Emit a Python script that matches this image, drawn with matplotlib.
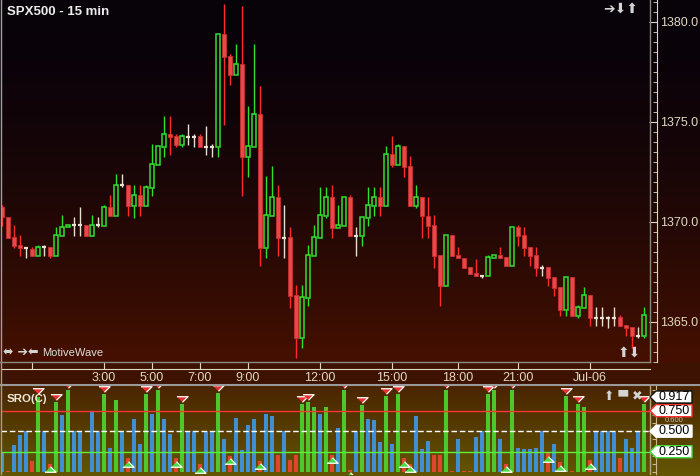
import numpy as np
import matplotlib
matplotlib.use("Agg")
import matplotlib.pyplot as plt
from matplotlib.lines import Line2D
from matplotlib.patches import Polygon
from matplotlib.ticker import FixedLocator, MultipleLocator, FormatStrFormatter
from matplotlib.transforms import blended_transform_factory

plt.rcParams['font.family'] = ['Liberation Sans', 'DejaVu Sans']

# 15 min bars, SPX500
opens = [1370.72, 1370.24, 1369.24, 1368.84, 1368.70, 1368.64, 1368.30, 1368.74, 1368.74, 1368.30,
         1369.30, 1369.74, 1369.84, 1369.84, 1369.84, 1369.30, 1369.84, 1369.80, 1370.74, 1370.30,
         1371.84, 1371.84, 1370.80, 1371.34, 1370.80, 1371.70, 1372.85, 1373.75, 1374.38, 1374.28,
         1373.85, 1374.25, 1374.25, 1374.28, 1373.75, 1373.75, 1373.75, 1379.38, 1378.28, 1377.35,
         1377.88, 1373.25, 1373.75, 1375.38, 1368.70, 1370.30, 1371.23, 1369.20, 1369.23, 1366.33,
         1364.20, 1366.20, 1368.30, 1369.20, 1370.30, 1371.23, 1369.70, 1369.80, 1371.23, 1369.30,
         1369.30, 1370.20, 1370.80, 1371.23, 1370.80, 1373.38, 1372.85, 1373.78, 1372.78, 1370.80,
         1371.23, 1370.30, 1369.83, 1368.33, 1366.80, 1369.33, 1368.33, 1368.20, 1367.73, 1367.43,
         1367.30, 1367.30, 1368.20, 1368.33, 1368.23, 1367.80, 1369.73, 1369.33, 1368.73, 1368.33,
         1367.70, 1367.73, 1367.23, 1366.73, 1365.60, 1367.23, 1365.30, 1365.70, 1366.33, 1365.20,
         1365.20, 1365.20, 1365.20, 1365.23, 1364.83, 1364.73, 1364.30, 1364.30]
highs = [1370.84, 1370.24, 1369.84, 1369.34, 1368.70, 1368.74, 1368.84, 1368.84, 1368.74, 1369.74,
         1370.34, 1369.84, 1370.24, 1370.74, 1369.84, 1370.34, 1370.24, 1370.84, 1371.34, 1372.40,
         1372.40, 1371.84, 1371.84, 1371.84, 1371.84, 1373.88, 1373.80, 1375.28, 1375.28, 1374.38,
         1374.38, 1374.88, 1374.38, 1374.38, 1374.78, 1373.88, 1379.38, 1380.88, 1378.38, 1378.88,
         1380.78, 1375.78, 1378.88, 1376.78, 1372.28, 1372.78, 1371.83, 1370.83, 1369.73, 1366.83,
         1366.83, 1368.83, 1369.83, 1371.73, 1371.73, 1371.83, 1370.83, 1371.23, 1371.33, 1369.73,
         1370.23, 1371.73, 1371.73, 1371.73, 1373.78, 1374.28, 1373.88, 1373.78, 1373.28, 1371.83,
         1371.23, 1371.23, 1370.33, 1368.33, 1369.33, 1369.33, 1368.73, 1368.20, 1367.73, 1368.13,
         1367.30, 1368.33, 1368.33, 1368.73, 1368.23, 1369.73, 1369.83, 1369.73, 1368.73, 1368.73,
         1367.83, 1367.73, 1367.23, 1366.73, 1367.23, 1367.23, 1365.83, 1366.73, 1366.33, 1365.73,
         1365.73, 1365.30, 1365.73, 1365.33, 1364.83, 1364.73, 1364.73, 1365.73]
lows = [1369.80, 1369.20, 1368.70, 1368.29, 1368.20, 1368.30, 1368.30, 1368.30, 1368.20, 1368.30,
        1369.30, 1369.74, 1369.30, 1369.30, 1369.30, 1369.30, 1369.74, 1369.80, 1370.30, 1370.30,
        1371.74, 1370.30, 1370.20, 1370.30, 1370.80, 1371.30, 1372.85, 1373.25, 1373.35, 1373.75,
        1373.75, 1373.85, 1373.75, 1373.75, 1373.35, 1373.25, 1373.25, 1374.85, 1376.85, 1377.35,
        1371.30, 1372.25, 1373.75, 1367.80, 1368.20, 1370.30, 1368.30, 1368.20, 1365.70, 1363.20,
        1363.70, 1365.80, 1368.30, 1369.20, 1370.20, 1369.20, 1369.70, 1369.80, 1369.30, 1368.30,
        1368.80, 1369.80, 1370.30, 1370.30, 1370.80, 1372.75, 1372.85, 1372.25, 1370.80, 1370.70,
        1369.20, 1369.20, 1367.70, 1365.80, 1366.80, 1368.30, 1368.20, 1367.70, 1367.40, 1367.30,
        1367.20, 1367.30, 1368.20, 1368.20, 1367.80, 1367.80, 1368.80, 1368.30, 1367.80, 1367.30,
        1367.30, 1366.80, 1366.30, 1365.30, 1365.30, 1365.30, 1365.20, 1365.70, 1364.80, 1364.80,
        1364.80, 1364.70, 1364.80, 1364.80, 1364.30, 1363.70, 1364.20, 1364.20]
closes = [1370.22, 1369.20, 1368.80, 1368.70, 1368.70, 1368.30, 1368.74, 1368.74, 1368.30, 1369.34,
          1369.74, 1369.84, 1369.84, 1369.84, 1369.30, 1369.84, 1369.84, 1370.74, 1370.30, 1371.84,
          1371.84, 1370.80, 1371.34, 1370.80, 1371.74, 1372.88, 1373.78, 1374.38, 1374.25, 1373.85,
          1374.28, 1374.25, 1374.25, 1373.75, 1373.75, 1373.75, 1379.38, 1378.25, 1377.35, 1377.88,
          1373.25, 1373.78, 1375.38, 1368.70, 1370.33, 1371.23, 1369.20, 1369.20, 1366.30, 1364.20,
          1366.23, 1368.33, 1369.23, 1370.33, 1371.23, 1369.70, 1369.83, 1371.23, 1369.30, 1369.30,
          1370.23, 1370.83, 1371.23, 1370.80, 1373.38, 1372.85, 1373.78, 1372.75, 1370.80, 1371.23,
          1370.30, 1369.80, 1368.30, 1366.80, 1369.33, 1368.30, 1368.20, 1367.70, 1367.40, 1367.30,
          1367.30, 1368.23, 1368.33, 1368.20, 1367.80, 1369.73, 1369.30, 1368.70, 1368.30, 1367.70,
          1367.70, 1367.20, 1366.70, 1365.60, 1367.23, 1365.30, 1365.73, 1366.33, 1365.20, 1365.20,
          1365.20, 1365.20, 1365.20, 1364.80, 1364.70, 1364.30, 1364.30, 1365.33]

# SRO(C) oscillator
sro = [0.25, 0.015, 0.33, 0.45, 0.5, 0.14, 0.92, 0.5, 0.10, 0.85,
       0.70, 1.0, 0.5, 0.5, 0.005, 0.745, 0.5, 0.95, 0.30, 0.875,
       0.5, 0.17, 0.65, 0.34, 0.95, 0.71, 1.0, 0.65, 0.47, 0.17,
       0.83, 0.5, 0.5, 0.095, 0.5, 0.5, 0.965, 0.41, 0.20, 0.665,
       0.265, 0.57, 0.65, 0.135, 0.705, 0.69, 0.215, 0.5, 0.145, 0.215,
       0.83, 0.85, 0.80, 0.71, 0.80, 0.215, 0.54, 1.0, 0.03, 0.5,
       0.815, 0.65, 0.64, 0.365, 0.925, 0.34, 0.95, 0.17, 0.10, 0.68,
       0.28, 0.375, 0.215, 0.205, 1.0, 0.01, 0.40, 0.01, 0.01, 0.435,
       0.5, 0.95, 1.0, 0.40, 0.10, 1.0, 0.30, 0.285, 0.28, 0.29,
       0.5, 0.23, 0.34, 0.12, 0.925, 0.01, 0.83, 0.80, 0.145, 0.5,
       0.5, 0.5, 0.5, 0.17, 0.40, 0.30, 0.5, 0.83]
sell_marks = [6, 9, 11, 17, 24, 26, 30, 36, 50, 51, 57, 60, 64, 66, 74, 81, 82, 85, 94, 96, 107]
buy_marks = [8, 21, 29, 33, 38, 43, 55, 58, 67, 68, 84, 91, 93, 98]

time_ticks = [5, 17, 25, 33, 41, 53, 65, 76, 86, 98]
time_labels = ["", "3:00", "5:00", "7:00", "9:00", "12:00", "15:00", "18:00", "21:00", "Jul-06"]
price_ticks = [1365.0, 1370.0, 1375.0, 1380.0]
sro_last = 0.917

W, H = 700, 476
def fx(px):
    return px / W
def fy(py):
    return 1 - py / H

GREEN = '#2fe02f'
RED = '#e84848'
REDW = '#ff2a2a'
DOJI = '#e6e0d2'
AXC = '#e0d8c0'
ICON = '#d4d4d4'

fig = plt.figure(figsize=(7, 4.76), dpi=100)

# background gradients
grad = np.zeros((H, W, 3))
t = np.linspace(0, 1, 362)[:, None] ** 1.7
top, bot = np.array([8, 2, 10]), np.array([70, 16, 0])
grad[:362] = ((top + (bot - top) * t) / 255)[:, None, :]
grad[362:385] = np.array([62, 18, 2]) / 255
t2 = np.linspace(0, 1, H - 385)[:, None]
top2, bot2 = np.array([74, 36, 0]), np.array([100, 86, 4])
grad[385:] = ((top2 + (bot2 - top2) * t2) / 255)[:, None, :]
bg = fig.add_axes([0, 0, 1, 1])
bg.imshow(grad, aspect='auto', interpolation='nearest')
bg.axis('off')

# ---- price panel
ax = fig.add_axes([fx(1), fy(362), 649 / W, 362 / H])
ax.set_facecolor('none')
x = np.arange(len(opens))
o = np.array(opens); h = np.array(highs); l = np.array(lows); c = np.array(closes)
doji = np.abs(c - o) < 0.02
up = (c > o) & ~doji
dn = (c < o) & ~doji

ax.vlines(x[dn], l[dn], h[dn], color=REDW, lw=1, zorder=2)
ax.bar(x[dn], (o - c)[dn], bottom=c[dn], width=0.76, color=RED, edgecolor='#c83030', lw=0.6, zorder=3)
ax.vlines(x[up], c[up], h[up], color=GREEN, lw=1, zorder=2)
ax.vlines(x[up], l[up], o[up], color=GREEN, lw=1, zorder=2)
ax.bar(x[up], (c - o)[up], bottom=o[up], width=0.68, fill=False, edgecolor=GREEN, lw=1.1, zorder=3)
ax.vlines(x[doji], l[doji], h[doji], color=DOJI, lw=1, zorder=2)
ax.hlines(o[doji], x[doji] - 0.4, x[doji] + 0.4, color=DOJI, lw=1.6, zorder=3)

ax.set_xlim(-1 / 6, 108)
ax.set_ylim(1362.985, 1381.085)
for s in ['top', 'left']:
    ax.spines[s].set_visible(False)
for s in ['right', 'bottom']:
    ax.spines[s].set_position(('outward', 5))
    ax.spines[s].set_color(AXC)
ax.yaxis.set_ticks_position('right')
ax.yaxis.set_major_locator(FixedLocator(price_ticks))
ax.yaxis.set_minor_locator(MultipleLocator(0.5))
ax.yaxis.set_major_formatter(FormatStrFormatter('%.1f'))
ax.tick_params(axis='y', which='major', direction='in', length=6, color=AXC, labelcolor=AXC, labelsize=9, pad=2)
ax.tick_params(axis='y', which='minor', direction='in', length=3, color=AXC)
ax.set_xticks(time_ticks)
ax.set_xticklabels(time_labels)
ax.tick_params(axis='x', direction='in', length=5, color=AXC, labelcolor=AXC, labelsize=9, pad=2)

# ---- SRO panel
ax2 = fig.add_axes([fx(1), fy(474), 649 / W, 88.5 / H])
ax2.set_facecolor('none')
cols = ['#4cc82c' if v > 0.75 else ('#e0452f' if v < 0.25 else '#3f8fd2') for v in sro]
ax2.bar(x, sro, width=0.8, color=cols, zorder=2)
ax2.axhline(0.75, color='#ff3636', lw=1, zorder=3)
ax2.axhline(0.5, color='white', lw=1, ls=(0, (4, 2)), zorder=3)
ax2.axhline(0.25, color='#5cf040', lw=1, zorder=3)
sro_a = np.array(sro)
down_tri = [(-1, 0.5), (1, 0.5), (0, -0.5)]
up_tri = [(-1, -0.5), (1, -0.5), (0, 0.5)]
ax2.plot(sell_marks, sro_a[sell_marks] + 0.065, ls='none', marker=down_tri, ms=8,
         mfc='#e83030', mec='white', mew=0.9, zorder=4)
ax2.plot(buy_marks, sro_a[buy_marks] - 0.065, ls='none', marker=up_tri, ms=8,
         mfc='#44dd44', mec='white', mew=0.9, zorder=4)
ax2.set_xlim(-1 / 6, 108)
ax2.set_ylim(-0.022, 1.0573)
for s in ['top', 'left', 'bottom']:
    ax2.spines[s].set_visible(False)
ax2.spines['right'].set_position(('outward', 4))
ax2.spines['right'].set_color('#c8b890')
ax2.yaxis.set_ticks_position('right')
ax2.yaxis.set_major_locator(MultipleLocator(0.1))
ax2.tick_params(axis='y', direction='in', length=3, color='#c8b890', labelright=False)
ax2.set_xticks([])

tr = blended_transform_factory(fig.transFigure, ax2.transData)
# small axis label squeezed between the 0.750 and 0.500 boxes
fig.text(fx(674), (472.2 - 421) / 82, "0.600", transform=tr, fontsize=5.5, color='#c8b8a0',
         va='center', ha='center', zorder=1)

hh = 6 / 82
for val, txt, ec in [(sro_last, "0.917", '#111111'), (0.75, "0.750", '#ff3030'),
                     (0.5, "0.500", 'white'), (0.25, "0.250", '#44dd44')]:
    pts = [(fx(650), val), (fx(656), val + hh), (fx(692), val + hh), (fx(692), val - hh), (fx(656), val - hh)]
    fig.add_artist(Polygon(pts, closed=True, transform=tr, facecolor='white', edgecolor=ec, lw=1, zorder=5))
    fig.text(fx(674), val, txt, transform=tr, fontsize=9, color='black', ha='center', va='center', zorder=6)

# frame lines
def pline(x0, y0, x1, y1, col, lw):
    fig.add_artist(Line2D([fx(x0), fx(x1)], [fy(y0), fy(y1)], transform=fig.transFigure, color=col, lw=lw))

pline(0.5, 0, 0.5, 474, '#a0a0a0', 1)
pline(649.5, 0, 649.5, 362, '#8a8a80', 1)
pline(0, 362, 650, 362, '#8a8a80', 1)
pline(0, 385, 700, 385, '#9a9a9a', 1.5)
pline(649.5, 386, 649.5, 474, '#b0a880', 1)

# texts and icons
fig.text(fx(7), fy(12), "SPX500 - 15 min", fontsize=9.5, fontweight='bold', color='#ececec', va='center')
fig.text(fx(603), fy(9), "➔⬇⬆", fontsize=10, color=ICON, va='center', family=['DejaVu Sans'])
fig.text(fx(3), fy(353), "⬌ ➔⬅", fontsize=9, color=ICON, va='center', family=['DejaVu Sans'])
fig.text(fx(42.5), fy(353), "MotiveWave", fontsize=8, color='#dcdcdc', va='center')
fig.text(fx(618), fy(353), "⬆⬇", fontsize=10, color=ICON, va='center', family=['DejaVu Sans'])
fig.text(fx(7), fy(398.5), "SRO(C)", fontsize=8.2, fontweight='bold', color='#f0e8d8', va='center', zorder=7)
fig.text(fx(604), fy(396), "⬆ ▀ ✖", fontsize=9, color=ICON, va='center', family=['DejaVu Sans'], zorder=7)

fig.savefig("out.png", dpi=100)
